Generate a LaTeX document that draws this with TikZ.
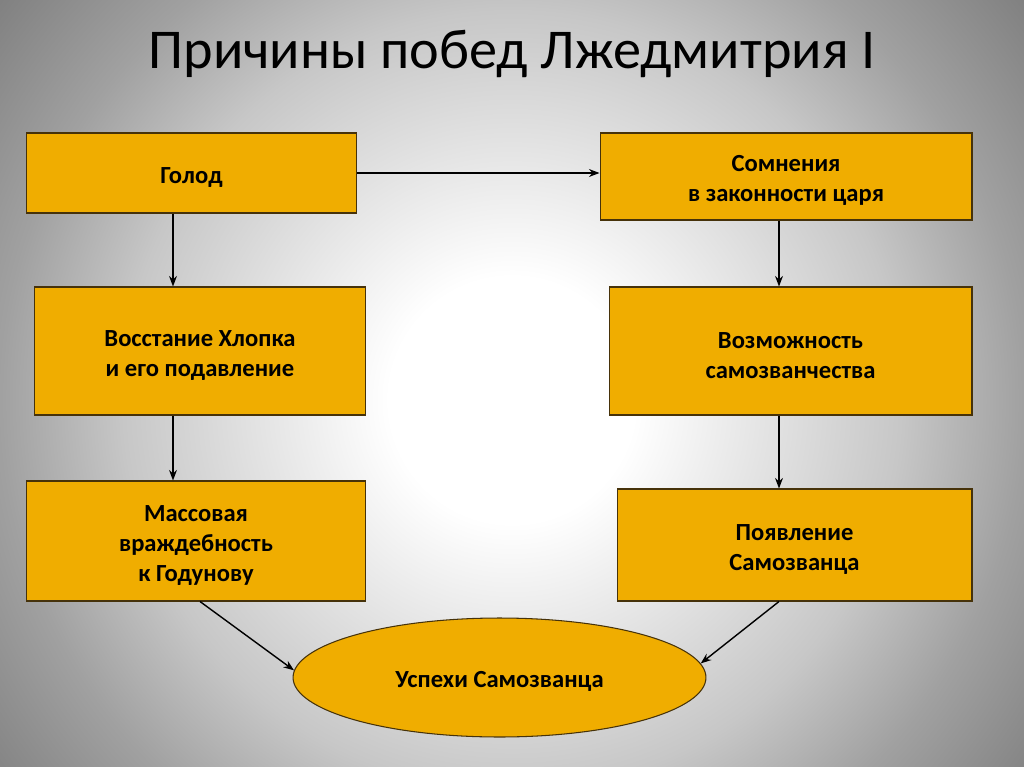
\documentclass[tikz,border=0pt]{standalone}
\usepackage{fontspec}
\setmainfont{Carlito}
\usetikzlibrary{shapes.geometric,arrows.meta}
\definecolor{boxfill}{RGB}{240,173,0}
\definecolor{boxline}{RGB}{70,50,10}
\pgfdeclareradialshading{slidebg}{\pgfpoint{0bp}{0bp}}{color(0bp)=(white); color(6bp)=(white); color(19bp)=(black!22); color(25bp)=(black!37); color(32bp)=(black!50); color(50bp)=(black!50)}
\newcommand{\toplift}{\rule{0pt}{14pt}}
\begin{document}
\begin{tikzpicture}[
        x=0.02cm, y=-0.02cm,
        cause/.style={draw=boxline, line width=0.6pt, fill=boxfill, align=center, inner sep=0pt,
            font=\bfseries\fontsize{14}{17}\selectfont},
        result/.style={cause, ellipse},
        link/.style={-{Stealth[length=6pt,width=4.5pt]}, line width=0.8pt}
    ]
        \useasboundingbox (0,0) rectangle (1024,767);
        \begin{scope}
            \clip (0,0) rectangle (1024,767);
            \shade[shading=slidebg] (0,-112) rectangle (1024,912);
        \end{scope}

        \node (title) at (512,54) {\fontsize{32}{38}\selectfont Причины побед Лжедмитрия I};

        \node[cause, minimum width=6.62cm, minimum height=1.6cm] (golod) at (191.5,173) {\toplift Голод};
        \node[cause, minimum width=7.44cm, minimum height=1.74cm] (somnenie) at (786,176.5) {\toplift Сомнения\\в законности царя};
        \node[cause, minimum width=6.64cm, minimum height=2.56cm] (hlopok) at (200,351) {\toplift Восстание Хлопка\\и его подавление};
        \node[cause, minimum width=7.26cm, minimum height=2.56cm] (vozmozh) at (790.5,351) {\toplift Возможность\\самозванчества};
        \node[cause, minimum width=6.8cm, minimum height=2.4cm] (vrazhda) at (196,541) {\toplift Массовая\\враждебность\\к Годунову};
        \node[cause, minimum width=7.1cm, minimum height=2.24cm] (poyavl) at (794.5,545) {\toplift Появление\\Самозванца};
        \node[result, minimum width=8.26cm, minimum height=2.38cm] (uspeh) at (499.5,677.5) {\toplift Успехи Самозванца};

        \coordinate (leftx) at (173,0);
        \coordinate (rightx) at (779,0);

        \draw[link] (golod.east) -- (golod.east -| somnenie.west);
        \draw[link] (golod.south -| leftx) -- (hlopok.north -| leftx);
        \draw[link] (hlopok.south -| leftx) -- (vrazhda.north -| leftx);
        \draw[link] (somnenie.south -| rightx) -- (vozmozh.north -| rightx);
        \draw[link] (vozmozh.south -| rightx) -- (poyavl.north -| rightx);
        \draw[link] ([xshift=0.08cm]vrazhda.south) -- (uspeh.178);
        \draw[link] (poyavl.south -| rightx) -- (uspeh.4);
    \end{tikzpicture}
\end{document}
